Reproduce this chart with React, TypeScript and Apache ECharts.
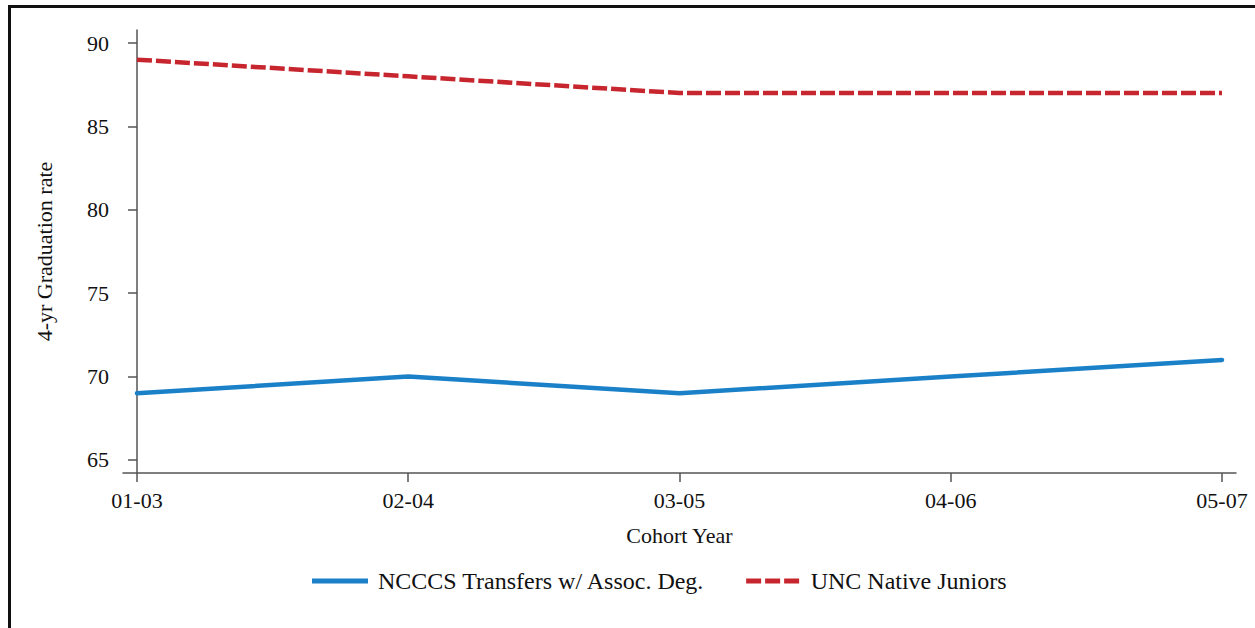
import React, { useEffect, useRef } from "react";
import * as echarts from "echarts";

const categories = ["01-03", "02-04", "03-05", "04-06", "05-07"];
const ncccsValues = [69, 70, 69, 70, 71];
const uncValues = [89, 88, 87, 87, 87];
const yTicks = [65, 70, 75, 80, 85, 90];
const seriesNames = ["NCCCS Transfers w/ Assoc. Deg.", "UNC Native Juniors"];

const FONT = "'Liberation Serif', 'Times New Roman', serif";
const AXIS_COLOR = "#555";
const BLUE = "#1a80c8";
const RED = "#c8262f";

export default function App() {
  const ref = useRef<HTMLDivElement>(null);
  useEffect(() => {
    document.body.style.margin = "0";
    const chart = echarts.init(ref.current!, null, { renderer: "svg" });
    const xPad = 14 / 271.25;
    chart.setOption({
      animation: false,
      backgroundColor: "#fff",
      textStyle: { fontFamily: FONT },
      graphic: [
        {
          type: "rect",
          shape: { x: 9.5, y: 6.5, width: 1400, height: 800 },
          style: { fill: "none", stroke: "#111", lineWidth: 3 },
          silent: true,
        },
      ],
      grid: { left: 123, right: 19, top: 30, bottom: 155, containLabel: false },
      legend: {
        left: 312,
        top: 569,
        padding: 0,
        itemWidth: 56,
        itemHeight: 5,
        itemGap: 41,
        textStyle: { fontFamily: FONT, fontSize: 24, color: "#111", padding: [0, 0, 0, 5] },
        data: [
          { name: seriesNames[0], icon: "rect", itemStyle: { color: BLUE } },
          {
            name: seriesNames[1],
            icon: "path://M0,0h15v5h-15z M19,0h15v5h-15z M38,0h15v5h-15z",
            itemStyle: { color: RED },
          },
        ],
      },
      xAxis: {
        type: "value",
        min: -xPad,
        max: categories.length - 1 + xPad,
        name: "Cohort Year",
        nameLocation: "middle",
        nameGap: 51,
        nameTextStyle: { fontFamily: FONT, fontSize: 22, color: "#111" },
        axisLine: { show: true, lineStyle: { color: AXIS_COLOR, width: 1.5 } },
        axisTick: {
          show: true,
          length: 9,
          customValues: categories.map((_, i) => i),
          lineStyle: { color: AXIS_COLOR, width: 1.5 },
        },
        axisLabel: {
          customValues: categories.map((_, i) => i),
          formatter: (v: number) => categories[Math.round(v)] ?? "",
          margin: 16,
          fontFamily: FONT,
          fontSize: 22,
          color: "#111",
        },
        splitLine: { show: false },
      },
      yAxis: {
        type: "value",
        min: 64.22,
        max: 90.78,
        name: "4-yr Graduation rate",
        nameLocation: "middle",
        nameRotate: 90,
        nameGap: 68,
        nameTextStyle: { fontFamily: FONT, fontSize: 22, color: "#111" },
        axisLine: { show: true, lineStyle: { color: AXIS_COLOR, width: 1.5 } },
        axisTick: {
          show: true,
          length: 9,
          customValues: yTicks,
          lineStyle: { color: AXIS_COLOR, width: 1.5 },
        },
        axisLabel: {
          customValues: yTicks,
          margin: 14,
          fontFamily: FONT,
          fontSize: 22,
          color: "#111",
        },
        splitLine: { show: false },
      },
      series: [
        {
          name: seriesNames[0],
          type: "line",
          symbol: "none",
          data: ncccsValues.map((v, i) => [i, v]),
          lineStyle: { color: BLUE, width: 4.5, cap: "round" },
          itemStyle: { color: BLUE },
        },
        {
          name: seriesNames[1],
          type: "line",
          symbol: "none",
          data: uncValues.map((v, i) => [i, v]),
          lineStyle: { color: RED, width: 4.5, type: [15, 4] },
          itemStyle: { color: RED },
        },
      ],
    });
    return () => chart.dispose();
  }, []);
  return <div ref={ref} style={{ width: 1255, height: 628 }} />;
}
